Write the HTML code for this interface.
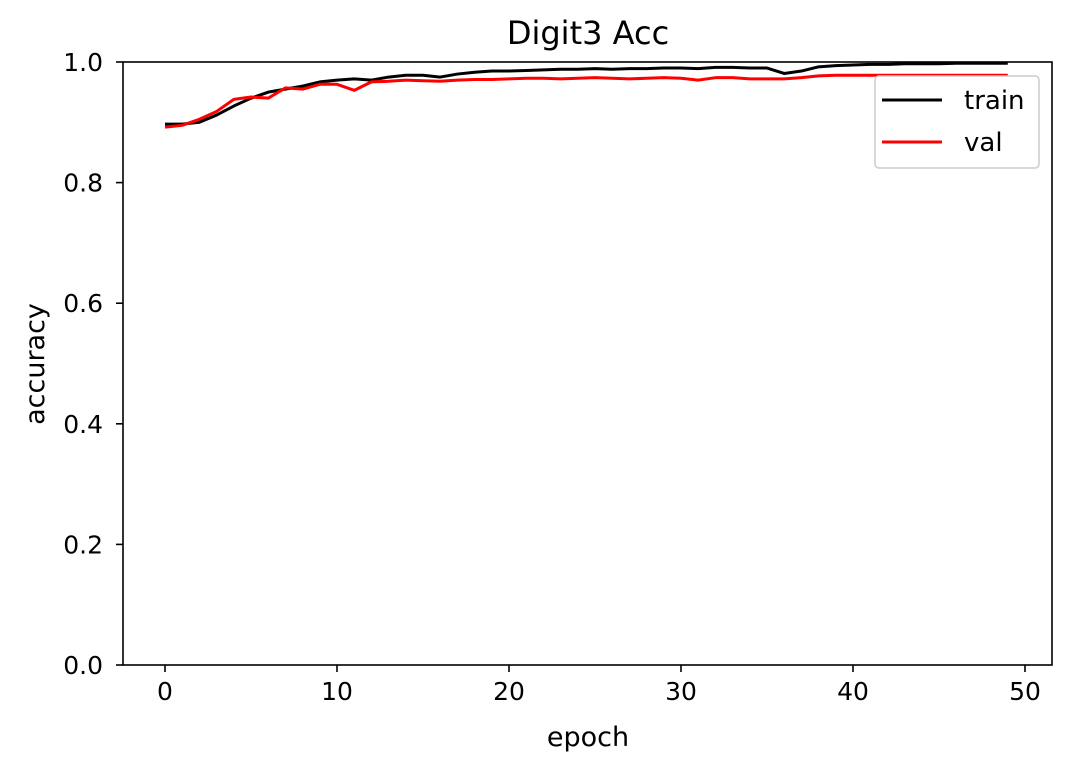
<!DOCTYPE html>
<html><head><meta charset="utf-8"><style>
body{margin:0;background:#fff;}
text{font-family:"DejaVu Sans","Liberation Sans",sans-serif;}
</style></head><body>
<svg id="chart" width="1076" height="773" xmlns="http://www.w3.org/2000/svg">
<rect width="1076" height="773" fill="#fff"/>
<text x="588" y="44" font-size="32" text-anchor="middle">Digit3 Acc</text>
<g id="plot"></g>
<rect x="123" y="62" width="929" height="603" fill="none" stroke="#000" stroke-width="1.6"/>
<text x="588" y="746" font-size="27" text-anchor="middle">epoch</text>
<text x="44" y="364" font-size="27" text-anchor="middle" transform="rotate(-90 44 364)">accuracy</text>
<g>
<rect x="875" y="76" width="164" height="92" rx="4" fill="#fff" stroke="#ccc" stroke-width="1.5"/>
<line x1="882" y1="100" x2="942" y2="100" stroke="#000" stroke-width="3"/>
<text x="964" y="109" font-size="26">train</text>
<line x1="882" y1="142" x2="942" y2="142" stroke="#f00" stroke-width="3"/>
<text x="964" y="151" font-size="26">val</text>
</g>
</svg>
<script>
const epochs = Array.from({length:50},(_,i)=>i);
const trainAcc = [0.897,0.897,0.900,0.912,0.927,0.940,0.950,0.955,0.960,0.967,0.970,0.972,0.970,0.975,0.978,0.978,0.975,0.980,0.983,0.985,0.985,0.986,0.987,0.988,0.988,0.989,0.988,0.989,0.989,0.990,0.990,0.989,0.991,0.991,0.990,0.990,0.981,0.985,0.992,0.994,0.995,0.996,0.996,0.997,0.997,0.997,0.998,0.998,0.998,0.998];
const valAcc = [0.892,0.895,0.905,0.918,0.938,0.942,0.940,0.957,0.955,0.963,0.963,0.953,0.967,0.968,0.970,0.969,0.968,0.970,0.971,0.971,0.972,0.973,0.973,0.972,0.973,0.974,0.973,0.972,0.973,0.974,0.973,0.970,0.974,0.974,0.972,0.972,0.972,0.974,0.977,0.978,0.978,0.978,0.978,0.978,0.978,0.978,0.978,0.978,0.978,0.978];
const xTicks = [0,10,20,30,40,50];
const yTicks = [0.0,0.2,0.4,0.6,0.8,1.0];
const xs = v => 165 + v*17.2;
const ys = v => 665 - v*603;
const NS="http://www.w3.org/2000/svg";
const g=document.getElementById('plot');
function mk(t,a){const e=document.createElementNS(NS,t);for(const k in a)e.setAttribute(k,a[k]);g.appendChild(e);return e;}
xTicks.forEach(t=>{
  const l=mk('line',{x1:xs(t),x2:xs(t),y1:665,y2:672,stroke:'#000','stroke-width':1.6});
  
  
  const tx=mk('text',{x:xs(t),y:700,'font-size':25,'text-anchor':'middle'});tx.textContent=t;
  
  
});
yTicks.forEach(t=>{
  const l=mk('line',{x1:116,x2:123,y1:ys(t),y2:ys(t),stroke:'#000','stroke-width':1.6});
  
  
  const tx=mk('text',{x:103,y:ys(t)+9,'font-size':25,'text-anchor':'end'});tx.textContent=t.toFixed(1);
  
  
});
function line(data,color,name){
  const p=mk('polyline',{points:data.map((v,i)=>xs(epochs[i])+','+ys(v)).join(' '),fill:'none',stroke:color,'stroke-width':3,'stroke-linejoin':'round'});
  
  
}
line(trainAcc,'#000','train-line');
line(valAcc,'#f00','val-line');
</script>
</body></html>
